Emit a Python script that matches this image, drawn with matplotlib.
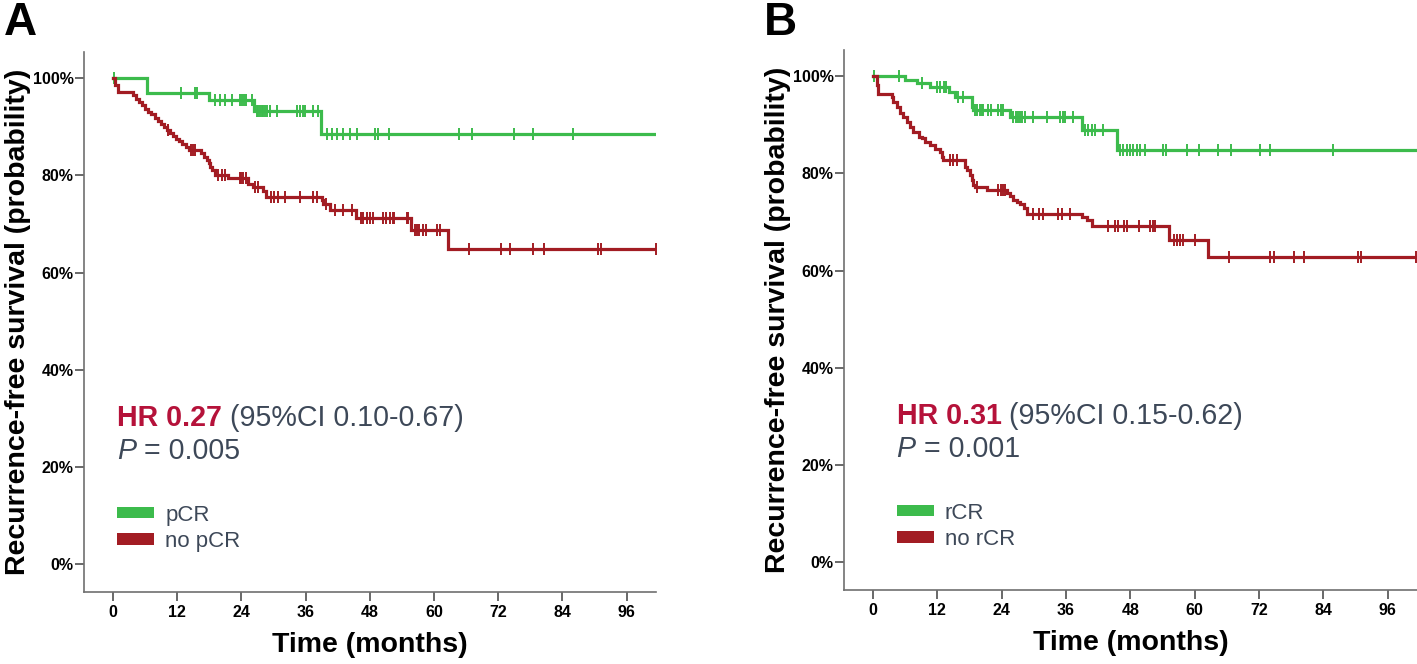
import numpy as np
import matplotlib
matplotlib.use("Agg")
import matplotlib.pyplot as plt
from matplotlib.patches import Patch

# ---------------- data ----------------
# Panel A : pCR vs no pCR  (time in months, survival in %)
a_pcr_event_t = [6.3, 18.0, 26.3, 38.9]
a_pcr_event_s = [97.0, 95.5, 93.3, 88.5]
a_pcr_cens = [0.2, 12.7, 15.3, 15.7, 19.1, 20.0, 20.9, 22.2, 23.7, 24.1, 24.5, 24.8,
              26.0, 26.9, 27.2, 27.5, 27.8, 28.0, 28.4, 28.8, 29.3, 30.6, 34.4, 34.9,
              35.5, 35.9, 37.4, 38.3, 40.0, 40.9, 41.8, 43.0, 44.3, 45.6, 48.9, 49.6,
              51.6, 64.6, 67.1, 74.9, 78.6, 85.9]
a_pcr_end = 101.5

a_no_event_t = [0.4, 1.0, 3.7, 4.3, 4.9, 5.4, 6.0, 6.6, 7.2, 7.8, 8.4, 8.9, 9.6, 10.2,
                10.7, 11.3, 11.8, 12.4, 13.0, 13.7, 14.3, 16.4, 17.0, 17.5, 17.9, 18.2,
                18.5, 19.0, 21.5, 25.3, 26.2, 28.1, 28.7, 39.0, 39.3, 40.5, 45.5, 55.8, 62.6]
a_no_event_s = [98.6, 97.2, 96.5, 95.8, 95.1, 94.4, 93.7, 93.0, 92.6, 91.9, 91.2, 90.6,
                90.0, 89.4, 88.8, 88.1, 87.6, 87.1, 86.4, 85.8, 85.3, 84.6, 83.9, 83.2,
                82.5, 81.8, 81.1, 80.0, 79.4, 78.3, 77.6, 76.9, 75.6, 74.9, 74.2, 72.8,
                71.3, 68.7, 64.9]
a_no_cens = [10.3, 14.6, 15.0, 15.4, 19.6, 20.3, 20.9, 23.7, 24.0, 24.4, 24.8, 26.6, 27.2,
             29.6, 30.2, 30.8, 32.1, 34.9, 37.4, 38.1, 39.9, 41.5, 43.0, 44.6, 46.4, 46.8,
             47.4, 48.0, 48.6, 50.5, 51.1, 51.7, 52.3, 52.6, 54.9, 55.1, 56.4, 56.8, 57.3,
             57.9, 58.6, 60.5, 61.1, 66.5, 72.5, 74.3, 78.6, 80.5, 90.6, 91.3, 101.5]
a_no_end = 101.5

# Panel B : rCR vs no rCR
b_rcr_event_t = [5.9, 8.2, 10.6, 14.1, 15.3, 18.4, 18.7, 25.6, 39.0, 45.5]
b_rcr_event_s = [99.3, 98.6, 97.8, 96.8, 95.8, 93.7, 93.0, 91.6, 88.9, 84.8]
b_rcr_cens = [0.2, 4.9, 9.1, 12.0, 12.6, 13.2, 13.7, 15.9, 16.8, 19.1, 19.5, 19.9, 20.3,
              20.6, 21.5, 22.1, 23.4, 23.8, 24.3, 26.2, 26.6, 27.0, 27.4, 27.8, 28.4,
              29.8, 32.4, 34.9, 35.5, 35.9, 37.4, 39.6, 40.2, 40.8, 41.5, 43.0, 46.1,
              46.7, 47.4, 48.0, 48.6, 49.2, 49.9, 50.8, 54.2, 54.7, 58.6, 60.9, 64.4,
              66.8, 72.3, 74.1, 85.8]
b_rcr_end = 101.5

b_no_event_t = [0.8, 1.0, 3.5, 3.8, 4.4, 5.0, 5.7, 6.3, 6.9, 7.5, 8.5, 9.1, 9.7, 10.6,
                11.6, 12.5, 12.8, 13.1, 17.2, 17.5, 18.1, 18.4, 18.7, 19.1, 21.2, 25.0,
                25.6, 26.2, 26.8, 27.5, 28.1, 28.7, 39.0, 39.9, 40.8, 55.3, 62.5]
b_no_event_s = [98.2, 96.4, 95.7, 94.7, 93.7, 92.4, 91.6, 90.6, 89.6, 88.6, 87.5, 87.2,
                86.5, 85.8, 85.1, 84.5, 83.4, 82.7, 81.4, 80.7, 79.7, 78.6, 77.6, 77.3,
                76.6, 75.9, 75.3, 74.6, 74.2, 73.8, 72.8, 71.7, 71.1, 70.4, 69.1, 66.3, 62.9]
b_no_cens = [14.4, 15.0, 15.6, 19.4, 23.4, 23.9, 24.2, 24.6, 29.9, 30.9, 31.8, 34.6, 35.2,
             36.8, 43.9, 45.2, 45.8, 46.8, 47.4, 49.6, 51.7, 52.3, 52.7, 56.1, 56.7, 57.3,
             57.9, 60.1, 66.4, 74.0, 74.8, 78.5, 80.4, 90.4, 91.1, 101.4]
b_no_end = 101.4

x_ticks = [0, 12, 24, 36, 48, 60, 72, 84, 96]
y_ticks = [0, 20, 40, 60, 80, 100]
y_tick_labels = ["0%", "20%", "40%", "60%", "80%", "100%"]

panels = [
    dict(letter="A", hr="HR 0.27", ci=" (95%CI 0.10-0.67)", p=" = 0.005",
         labels=["pCR", "no pCR"],
         green=(a_pcr_event_t, a_pcr_event_s, a_pcr_cens, a_pcr_end),
         red=(a_no_event_t, a_no_event_s, a_no_cens, a_no_end),
         text_x=0.75),
    dict(letter="B", hr="HR 0.31", ci=" (95%CI 0.15-0.62)", p=" = 0.001",
         labels=["rCR", "no rCR"],
         green=(b_rcr_event_t, b_rcr_event_s, b_rcr_cens, b_rcr_end),
         red=(b_no_event_t, b_no_event_s, b_no_cens, b_no_end),
         text_x=4.4),
]

GREEN = "#3cbb4c"
RED = "#a21c23"
HRCOL = "#b5123a"
TXT = "#3d4858"
SPINE = "#707070"

FONT = ["Liberation Sans", "DejaVu Sans"]
NARROW = ["Liberation Sans Narrow", "Liberation Sans", "DejaVu Sans"]
plt.rcParams["font.family"] = FONT

fig = plt.figure(figsize=(14.17, 6.64), dpi=100)

axes_rects = [
    [84 / 1417, 72 / 664, 572 / 1417, 540 / 664],
    [844 / 1417, 74 / 664, 573 / 1417, 540 / 664],
]


def km_curve(ax, event_t, event_s, cens, end, color):
    t = np.concatenate([[0.0], np.asarray(event_t, float), [end]])
    s = np.concatenate([[100.0], np.asarray(event_s, float), [event_s[-1]]])
    ax.step(t, s, where="post", color=color, lw=2.3, solid_joinstyle="miter",
            zorder=3)
    c = np.asarray(cens, float)
    idx = np.searchsorted(t[:-1], c, side="right") - 1
    ax.plot(c, s[idx], ls="none", marker="|", ms=9, mew=1.4, color=color,
            zorder=3)


for rect, pnl in zip(axes_rects, panels):
    ax = fig.add_axes(rect)
    km_curve(ax, *pnl["green"], GREEN)
    km_curve(ax, *pnl["red"], RED)

    ax.set_xlim(-5.4, 101.5)
    ax.set_ylim(-5.7, 105.4)
    ax.set_xticks(x_ticks)
    ax.set_xticklabels([str(v) for v in x_ticks], family=NARROW,
                       fontweight="bold", fontsize=11.5)
    ax.set_yticks(y_ticks)
    ax.set_yticklabels(y_tick_labels, family=NARROW, fontweight="bold",
                       fontsize=11.5)
    ax.tick_params(axis="both", direction="out", length=6.5, width=1.1,
                   color="#404040")
    ax.tick_params(axis="y", pad=1)
    ax.tick_params(axis="x", pad=3)
    for side in ("top", "right"):
        ax.spines[side].set_visible(False)
    for side in ("left", "bottom"):
        ax.spines[side].set_color(SPINE)
        ax.spines[side].set_linewidth(1.2)

    ax.set_ylabel("Recurrence-free survival (probability)", fontsize=20.5,
                  fontweight="bold", color="black")
    ax.yaxis.set_label_coords(-0.093, 0.5)
    ax.set_xlabel("Time (months)", fontsize=20.5, fontweight="bold",
                  color="black")
    ax.xaxis.set_label_coords(0.5, -0.075)

    # HR annotation
    tx = pnl["text_x"]
    t1 = ax.text(tx, 28.4, pnl["hr"], fontsize=20.6, fontweight="bold",
                 color=HRCOL, va="baseline", ha="left")
    ax.annotate(pnl["ci"], xy=(1, 0), xycoords=t1, va="bottom", ha="left",
                fontsize=20.6, color=TXT)
    t3 = ax.text(tx, 21.6, "P", fontsize=20.6, fontstyle="italic", color=TXT,
                 va="baseline", ha="left")
    ax.annotate(pnl["p"], xy=(1, 0), xycoords=t3, va="bottom", ha="left",
                fontsize=20.6, color=TXT)

    handles = [Patch(facecolor=GREEN, edgecolor="none"),
               Patch(facecolor=RED, edgecolor="none")]
    leg = ax.legend(handles, pnl["labels"], loc="upper left",
                    bbox_to_anchor=(tx, 12.3), bbox_transform=ax.transData,
                    frameon=False, fontsize=16, handlelength=1.67,
                    handleheight=0.43, handletextpad=0.5, labelspacing=0.23,
                    borderpad=0, borderaxespad=0)
    for txt in leg.get_texts():
        txt.set_color(TXT)

    fig.text(rect[0] - 82 / 1417 + 2 / 1417, 1 - 1 / 664, pnl["letter"],
             fontsize=33, fontweight="bold", va="top", ha="left")

fig.savefig("out.png", dpi=100)
